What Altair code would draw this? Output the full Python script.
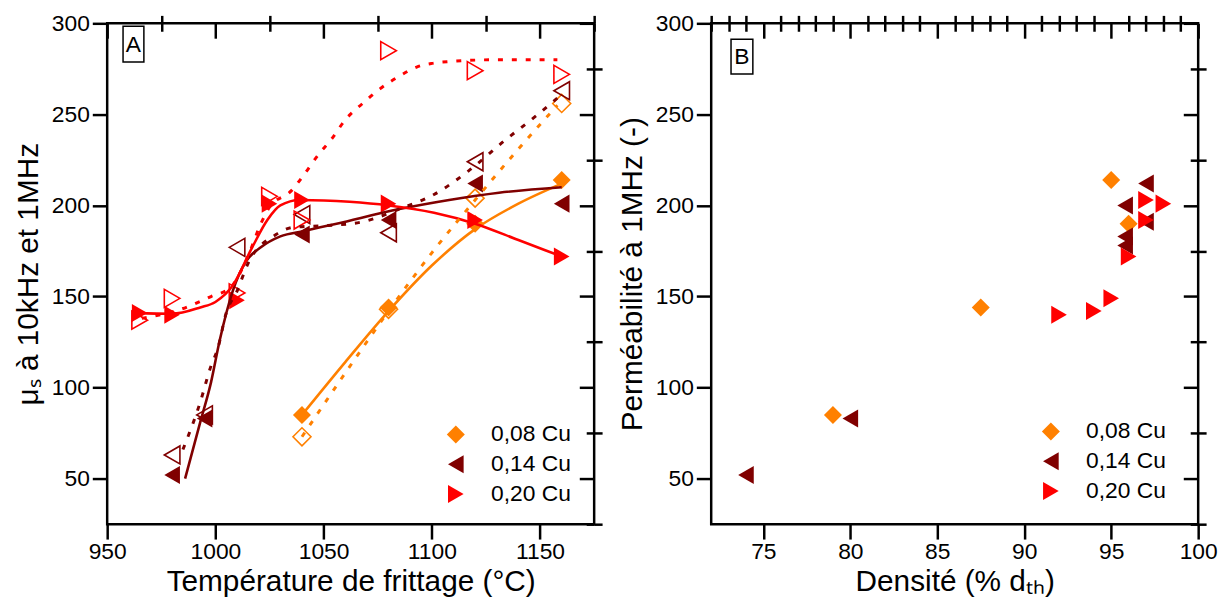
import altair as alt
import pandas as pd

FONT = "Liberation Sans"
SERIES = ["0,08 Cu", "0,14 Cu", "0,20 Cu"]
COLORS = ["#FF8000", "#800000", "#FF0000"]
SHAPES = ["diamond", "triangle-left", "triangle-right"]

# ---------------- Panel A : markers ----------------
T_08 = [1040, 1080, 1120, 1160]
MU1M_08 = [85, 144, 190, 214]
MU10K_08 = [73, 143, 204, 256]

T_14_F = [980, 995, 1040, 1080, 1120, 1160]
MU1M_14 = [52, 83, 184, 192, 212, 201]
T_14_H = [980, 995, 1010, 1040, 1080, 1120, 1160]
MU10K_14 = [63, 85, 177, 195, 185, 224, 263]

T_20 = [965, 980, 1010, 1025, 1040, 1080, 1120, 1160]
MU1M_20 = [141, 140, 148, 201, 203, 201, 192, 172]
MU10K_20 = [137, 149, 152, 205, 192, 285, 274, 272]

# ---------------- Panel A : fitted curves ----------------
FIT1M_08_T = [1040, 1060, 1080, 1100, 1120, 1140, 1160]
FIT1M_08 = [85, 114, 142, 167, 187, 201, 212]
FIT10K_08_T = [1040, 1060, 1080, 1100, 1120, 1140, 1158]
FIT10K_08 = [73, 108, 142, 174, 203, 231, 255]

FIT1M_14_T = [986, 993, 998, 1002, 1008, 1014, 1021, 1030, 1041, 1056, 1085, 1108, 1131, 1160]
FIT1M_14 = [50, 81, 103, 126, 153, 169, 177, 183, 186, 190, 198, 203, 207, 210]
FIT10K_14_T = [985, 993, 998, 1001, 1005, 1010, 1015, 1028, 1036, 1052, 1068, 1085, 1101, 1117, 1133, 1149, 1158]
FIT10K_14 = [66, 92, 112, 121, 141, 153, 168, 184, 188, 189, 191, 198, 206, 219, 235, 250, 259]

FIT1M_20_T = [963, 980, 993, 1000, 1008, 1017, 1024, 1030, 1039, 1062, 1080, 1101, 1120, 1140, 1160]
FIT1M_20 = [141, 140.5, 144, 147, 156, 177, 192, 200, 203, 202, 200, 196, 190, 181, 172]
FIT10K_20_T = [966, 984, 998, 1007, 1015, 1021, 1025, 1035, 1041, 1047, 1054, 1060, 1068, 1076, 1085, 1093, 1100, 1108, 1130, 1158]
FIT10K_20 = [138, 143, 150, 155, 172, 190, 199, 208, 217, 227, 237, 247, 256, 264, 271, 276, 278, 279, 280, 280]

# ---------------- Panel B : density vs permeability ----------------
DENS_08 = [79, 87.5, 95, 96]
PERM_08 = [85, 144, 214, 190]
DENS_14 = [74, 80, 97, 95.8, 97, 95.8, 95.8]
PERM_14 = [52, 83, 212, 200, 191, 183, 178]
DENS_20 = [92, 94, 95, 96, 97, 97, 98]
PERM_20 = [140, 142, 149, 172, 192, 203, 201]

# axes
XA_DOM = [950, 1175]
XA_MAJ = [950, 1000, 1050, 1100, 1150]
XA_MIN = [975, 1025, 1075, 1125, 1175]
XB_DOM = [72, 100]
XB_MAJ = [75, 80, 85, 90, 95, 100]
XB_MIN = [72, 73, 74, 76, 77, 78, 79, 81, 82, 83, 84, 86, 87, 88, 89, 91, 92, 93, 94, 96, 97, 98, 99]
Y_DOM = [25, 300]
Y_MAJ = [50, 100, 150, 200, 250, 300]
Y_MIN = [25, 75, 125, 175, 225, 275]


def frame(rows):
    return pd.DataFrame(rows, columns=["x", "y", "s"])


def pts(xs, ys, s):
    return [(a, b, s) for a, b in zip(xs, ys)]


def cscale():
    return alt.Scale(domain=SERIES, range=COLORS)


def sscale():
    return alt.Scale(domain=SERIES, range=SHAPES)


def axis_layers(xdom, ydom, xmaj, xmin, ymaj, ymin, xtitle, ytitle):
    d = pd.DataFrame({"x": [sum(xdom) / 2], "y": [sum(ydom) / 2]})
    xs = alt.Scale(domain=xdom, nice=False, zero=False)
    ys = alt.Scale(domain=ydom, nice=False, zero=False)

    def lay(xa, ya):
        return alt.Chart(d).mark_point(opacity=0, size=1).encode(
            x=alt.X("x:Q", scale=xs, axis=xa),
            y=alt.Y("y:Q", scale=ys, axis=ya),
        )

    main = lay(
        alt.Axis(values=xmaj, tickSize=15, title=xtitle, labelPadding=2,
                 titlePadding=3, format="d", labelFlush=False),
        alt.Axis(values=ymaj, tickSize=15, title=ytitle, labelPadding=3,
                 titlePadding=8, format="d"),
    )
    minor = lay(
        alt.Axis(values=xmin, tickSize=8, labels=False, title=None),
        alt.Axis(values=ymin, tickSize=8, labels=False, title=None),
    )
    top_major = lay(
        alt.Axis(orient="top", offset=-15, values=xmaj, tickSize=15, labels=False, title=None),
        alt.Axis(orient="right", offset=-15, values=ymaj, tickSize=15, labels=False, title=None),
    )
    top_minor = lay(
        alt.Axis(orient="top", offset=-8, values=xmin, tickSize=8, labels=False, title=None),
        alt.Axis(orient="right", offset=-8, values=ymin, tickSize=8, labels=False, title=None),
    )
    return [main, minor, top_major, top_minor], xs, ys


def panel_label(letter, bx, by, bw, bh):
    box = alt.Chart(pd.DataFrame({"t": [letter]})).mark_rect(
        fill="white", stroke="black", strokeWidth=1.5
    ).encode(x=alt.value(bx), x2=alt.value(bx + bw), y=alt.value(by), y2=alt.value(by + bh))
    txt = alt.Chart(pd.DataFrame({"t": [letter]})).mark_text(
        font=FONT, fontSize=23, color="black"
    ).encode(text="t:N", x=alt.value(bx + bw / 2), y=alt.value(by + bh / 2 + 1))
    return [box, txt]


def legend(lx, ly):
    return alt.Legend(orient="none", legendX=lx, legendY=ly, title=None,
                      labelFont=FONT, labelFontSize=23, labelColor="black",
                      symbolSize=330, rowPadding=6, labelOffset=24, padding=0,
                      symbolStrokeWidth=0)


W, H = 491, 505

# ---------------- Panel A ----------------
axA, xsA, ysA = axis_layers(XA_DOM, Y_DOM, XA_MAJ, XA_MIN, Y_MAJ, Y_MIN,
                            "Température de frittage (°C)", "μₛ à 10kHz et 1MHz")

hollowA = frame(pts(T_08, MU10K_08, SERIES[0]) + pts(T_14_H, MU10K_14, SERIES[1]) + pts(T_20, MU10K_20, SERIES[2]))
filledA = frame(pts(T_08, MU1M_08, SERIES[0]) + pts(T_14_F, MU1M_14, SERIES[1]) + pts(T_20, MU1M_20, SERIES[2]))
solidA = frame(pts(FIT1M_08_T, FIT1M_08, SERIES[0]) + pts(FIT1M_14_T, FIT1M_14, SERIES[1]) + pts(FIT1M_20_T, FIT1M_20, SERIES[2]))
dotA = frame(pts(FIT10K_08_T, FIT10K_08, SERIES[0]) + pts(FIT10K_14_T, FIT10K_14, SERIES[1]) + pts(FIT10K_20_T, FIT10K_20, SERIES[2]))

hollow_layer = alt.Chart(hollowA).mark_point(filled=False, strokeWidth=1.6, size=330, opacity=1).encode(
    x=alt.X("x:Q", scale=xsA, axis=None),
    y=alt.Y("y:Q", scale=ysA, axis=None),
    color=alt.Color("s:N", scale=cscale(), legend=None),
    shape=alt.Shape("s:N", scale=sscale(), legend=None),
)
filled_layer = alt.Chart(filledA).mark_point(filled=True, size=330, opacity=1).encode(
    x=alt.X("x:Q", scale=xsA, axis=None),
    y=alt.Y("y:Q", scale=ysA, axis=None),
    color=alt.Color("s:N", scale=cscale(), legend=legend(340, 403)),
    shape=alt.Shape("s:N", scale=sscale(), legend=legend(340, 403)),
)
solid_layer = alt.Chart(solidA).mark_line(interpolate="monotone", strokeWidth=2.6).encode(
    x=alt.X("x:Q", scale=xsA, axis=None),
    y=alt.Y("y:Q", scale=ysA, axis=None),
    color=alt.Color("s:N", scale=cscale(), legend=None),
)
dot_layer = alt.Chart(dotA).mark_line(interpolate="monotone", strokeWidth=3, strokeDash=[5, 9]).encode(
    x=alt.X("x:Q", scale=xsA, axis=None),
    y=alt.Y("y:Q", scale=ysA, axis=None),
    color=alt.Color("s:N", scale=cscale(), legend=None),
)

panelA = alt.layer(
    *axA, hollow_layer, filled_layer, solid_layer, dot_layer, *panel_label("A", 16, 3, 21, 36)
).resolve_axis(x="independent", y="independent").resolve_scale(
    color="independent", shape="independent"
).resolve_legend(color="independent", shape="independent").properties(width=W, height=H)

# ---------------- Panel B ----------------
axB, xsB, ysB = axis_layers(XB_DOM, Y_DOM, XB_MAJ, XB_MIN, Y_MAJ, Y_MIN,
                            "Densité (% dₜₕ)", "Perméabilité à 1MHz (-)")
filledB = frame(pts(DENS_08, PERM_08, SERIES[0]) + pts(DENS_14, PERM_14, SERIES[1]) + pts(DENS_20, PERM_20, SERIES[2]))
filled_B = alt.Chart(filledB).mark_point(filled=True, size=330, opacity=1).encode(
    x=alt.X("x:Q", scale=xsB, axis=None),
    y=alt.Y("y:Q", scale=ysB, axis=None),
    color=alt.Color("s:N", scale=cscale(), legend=legend(331, 400)),
    shape=alt.Shape("s:N", scale=sscale(), legend=legend(331, 400)),
)
panelB = alt.layer(
    *axB, filled_B, *panel_label("B", 20, 16, 22, 35)
).resolve_axis(x="independent", y="independent").properties(width=W, height=H)

chart = alt.hconcat(panelA, panelB, spacing=11).resolve_scale(
    color="independent", shape="independent"
).resolve_legend(color="independent", shape="independent").properties(
    padding={"left": 4, "top": 0, "right": 0, "bottom": 0}
).configure_view(stroke="black", strokeWidth=2.5).configure_axis(
    labelFont=FONT, titleFont=FONT, labelFontSize=23, titleFontSize=30,
    labelColor="black", titleColor="black", titleFontWeight="normal",
    tickColor="black", tickWidth=2.5, domain=False, grid=False,
)

chart.save("out.html", embed_options={"renderer": "svg", "actions": False})
